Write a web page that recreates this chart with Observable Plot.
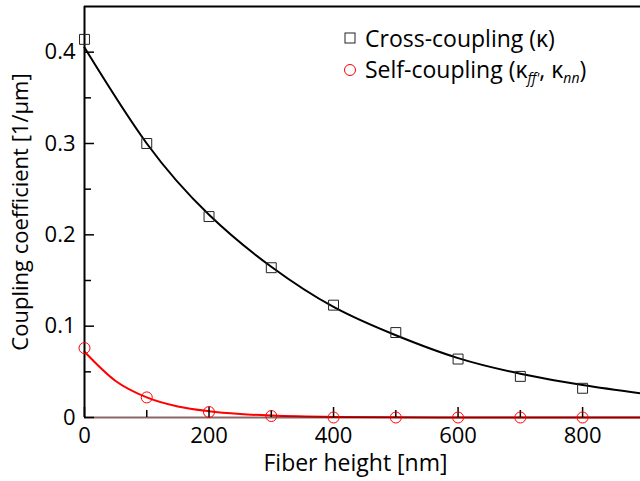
<!DOCTYPE html>
<html>
<head>
<meta charset="utf-8">
<script src="https://cdn.jsdelivr.net/npm/d3@7"></script>
<script src="https://cdn.jsdelivr.net/npm/@observablehq/plot@0.6"></script>
<style>
  body { margin: 0; background: #fff; }
  #wrap { position: relative; width: 640px; height: 481px; font-family: "Open Sans", sans-serif; }
  .leg { position: absolute; left: 343px; display: flex; align-items: center; font-size: 23px; color: #000; white-space: nowrap; }
  .leg svg { margin-right: 8px; }
  .leg sub { font-size: 14px; font-style: italic; vertical-align: -5px; }
</style>
</head>
<body>
<div id="wrap"></div>
<script>
// Data
const heights = [0, 100, 200, 300, 400, 500, 600, 700, 800];
const crossCoupling = [0.414, 0.300, 0.220, 0.164, 0.123, 0.093, 0.064, 0.045, 0.032];
const selfCoupling = [0.076, 0.022, 0.006, 0.0016, 0, 0, 0, 0, 0];

// Fit curves
const crossFitX = [0, 100, 200, 300, 400, 500, 600, 700, 800, 893];
const crossFitY = [0.405, 0.300, 0.222, 0.165, 0.121, 0.090, 0.065, 0.048, 0.0355, 0.0265];
const selfFitX = [0, 50, 100, 150, 200, 250, 300, 400, 500, 600, 700, 800, 893];
const selfFitY = [0.072, 0.040, 0.022, 0.012, 0.0068, 0.0038, 0.0021, 0.0006, 0.0002, 0.0001, 0, 0, 0];

const xMajor = [0, 200, 400, 600, 800];
const xMinor = [100, 300, 500, 700];
const yMajor = [0, 0.1, 0.2, 0.3, 0.4];
const yMinor = [0.05, 0.15, 0.25, 0.35];
const xLabel = "Fiber height [nm]";
const yLabel = "Coupling coefficient [1/μm]";
const legendLabels = ["Cross-coupling (κ)", "Self-coupling"];

const crossPts = heights.map((h, i) => ({x: h, y: crossCoupling[i]}));
const selfPts = heights.map((h, i) => ({x: h, y: selfCoupling[i]}));
const crossFit = crossFitX.map((h, i) => ({x: h, y: crossFitY[i]}));
const selfFit = selfFitX.map((h, i) => ({x: h, y: selfFitY[i]}));

const chart = Plot.plot({
  width: 640,
  height: 481,
  marginLeft: 84,
  marginRight: 0,
  marginTop: 6,
  marginBottom: 64,
  style: {fontFamily: "Open Sans, sans-serif", fontSize: "22px", color: "#000", background: "#fff"},
  x: {domain: [0, 893]},
  y: {domain: [0, 0.45]},
  marks: [
    Plot.line(crossFit, {x: "x", y: "y", curve: "natural", stroke: "#000", strokeWidth: 2}),
    Plot.line(selfFit, {x: "x", y: "y", curve: "monotone-x", stroke: "#ff0000", strokeWidth: 2}),
    Plot.ruleY([0.45], {stroke: "#000", strokeWidth: 2}),
    Plot.ruleX([0], {stroke: "#000", strokeWidth: 2}),
    Plot.ruleY([0], {stroke: "#400000", strokeWidth: 2, strokeOpacity: 0.6}),
    Plot.axisX({ticks: xMajor, tickSize: -10, text: null, strokeWidth: 1.5, label: null}),
    Plot.axisX({ticks: xMinor, tickSize: -7, text: null, strokeWidth: 1.5, label: null}),
    Plot.axisX({ticks: xMajor, tickSize: 0, tickPadding: 10, label: null}),
    Plot.axisY({ticks: yMajor, tickSize: -10, text: null, strokeWidth: 1.5, label: null}),
    Plot.axisY({ticks: yMinor, tickSize: -7, text: null, strokeWidth: 1.5, label: null}),
    Plot.axisY({ticks: yMajor, tickSize: 0, tickPadding: 9, tickFormat: d => d === 0 ? "0" : d3.format(".1f")(d), label: null}),
    Plot.text([xLabel], {frameAnchor: "bottom", text: d => d, textAnchor: "middle", lineAnchor: "middle", dy: 46, dx: -7, fontSize: 23}),
    Plot.text([yLabel], {frameAnchor: "left", text: d => d, textAnchor: "middle", lineAnchor: "middle", rotate: -90, dx: -64, fontSize: 22}),
    Plot.dot(crossPts, {x: "x", y: "y", symbol: "square", r: 5.6, stroke: "#222", strokeWidth: 1, fill: "none"}),
    Plot.dot(selfPts, {x: "x", y: "y", symbol: "circle", r: 5.5, stroke: "#ff0000", strokeWidth: 1, fill: "none"})
  ]
});

const wrap = document.getElementById("wrap");
wrap.appendChild(chart);

const leg1 = document.createElement("div");
leg1.className = "leg";
leg1.style.top = "22px";
leg1.innerHTML = `<svg width="14" height="14"><rect x="2" y="2" width="10" height="10" fill="none" stroke="#222" stroke-width="1"/></svg><span>${legendLabels[0]}</span>`;
wrap.appendChild(leg1);

const leg2 = document.createElement("div");
leg2.className = "leg";
leg2.style.top = "53px";
leg2.innerHTML = `<svg width="14" height="14"><circle cx="7" cy="7" r="5.5" fill="none" stroke="#ff0000" stroke-width="1"/></svg><span>${legendLabels[1]} (κ<sub>ff'</sub>, κ<sub>nn</sub>)</span>`;
wrap.appendChild(leg2);
</script>
</body>
</html>
